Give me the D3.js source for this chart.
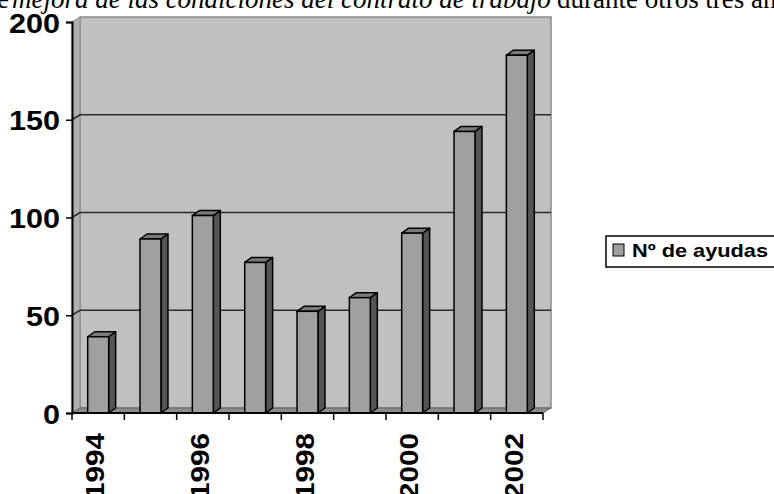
<!DOCTYPE html>
<html>
<head>
<meta charset="utf-8">
<script src="https://cdn.jsdelivr.net/npm/d3@7"></script>
<style>
  body { margin: 0; background: #fff; }
  svg { display: block; }
  .serif { font-family: 'Liberation Serif', 'Times New Roman', Times, serif; }
</style>
</head>
<body>
<div id="chart-container"></div>
<script>
  // chart data
  var years = ['1994', '1995', '1996', '1997', '1998', '1999', '2000', '2001', '2002'];
  var ayudas = [39, 89, 101, 77, 52, 59, 92, 144, 183];
  var yTicks = [0, 50, 100, 150, 200];
  var xLabels = ['1994', '1996', '1998', '2000', '2002'];
  var seriesName = 'Nº de ayudas';

  var width = 774;
  var height = 494;
  var depthX = 8, depthY = 5;   // wall depth
  var barDX = 7, barDY = 5;     // bar depth
  var sans = '"Liberation Sans", Arial, sans-serif';

  var svg = d3.select('#chart-container')
      .append('svg')
      .attr('width', width)
      .attr('height', height);

  // scales
  var xScale = d3.scaleBand()
      .domain(years)
      .range([72, 543])
      .paddingInner(0.6)
      .paddingOuter(0.3);

  var catScale = d3.scaleBand()
      .domain(years)
      .range([72, 543]);

  var yScale = d3.scaleLinear()
      .domain([0, 200])
      .range([413, 22]);

  var x0 = 72, x1 = 543, y0 = yScale(0), yTop = yScale(200);

  // clipped sentence of the page text above the chart
  var baseY = 8;
  var head = svg.append('g').attr('class', 'serif');
  head.append('text').attr('x', 9).attr('y', baseY).attr('text-anchor', 'end').text('de');
  var tIt = head.append('text').attr('x', 12).attr('y', baseY).style('font-style', 'italic')
      .text('mejora de las condiciones del contrato de trabajo');
  head.append('text').attr('x', 557).attr('y', baseY).text('durante otros tres años');
  head.selectAll('text').style('font-size', '24px');
  var k = 539 / tIt.node().getComputedTextLength();
  head.selectAll('text').style('font-size', (24 * k) + 'px');

  // back wall
  svg.append('rect')
      .attr('x', x0 + depthX)
      .attr('y', yTop - depthY)
      .attr('width', x1 - x0)
      .attr('height', y0 - yTop)
      .attr('fill', '#c0c0c0')
      .attr('stroke', '#8a8a8a')
      .attr('stroke-width', 1.5);

  // side wall
  svg.append('polygon')
      .attr('points', [[x0, yTop], [x0 + depthX, yTop - depthY], [x0 + depthX, y0 - depthY], [x0, y0]].join(' '))
      .attr('fill', '#b0b0b0')
      .attr('stroke', '#8a8a8a')
      .attr('stroke-width', 1);

  // gridlines
  svg.selectAll('polyline.grid')
      .data(yTicks.filter(function(d) { return d > 0 && d < 200; }))
      .enter()
      .append('polyline')
      .attr('class', 'grid')
      .attr('points', function(d) {
          var y = yScale(d);
          return [[x0, y], [x0 + depthX, y - depthY], [x1 + depthX, y - depthY]].join(' ');
      })
      .attr('fill', 'none')
      .attr('stroke', '#2a2a2a')
      .attr('stroke-width', 1.5);

  // floor
  svg.append('polygon')
      .attr('points', [[x0, y0], [x0 + depthX, y0 - depthY], [x1 + depthX, y0 - depthY], [x1, y0]].join(' '))
      .attr('fill', '#8c8c8c')
      .attr('stroke', '#555')
      .attr('stroke-width', 0.8);

  // 3d bars
  var bars = svg.selectAll('g.bar')
      .data(ayudas)
      .enter()
      .append('g')
      .attr('class', 'bar');

  bars.append('polygon')
      .attr('points', function(d, i) {
          var x = xScale(years[i]) + xScale.bandwidth(), y = yScale(d);
          return [[x, y], [x + barDX, y - barDY], [x + barDX, y0 - barDY], [x, y0]].join(' ');
      })
      .attr('fill', '#555')
      .attr('stroke', '#000')
      .attr('stroke-width', 1.5)
      .attr('stroke-linejoin', 'round');

  bars.append('polygon')
      .attr('points', function(d, i) {
          var x = xScale(years[i]), w = xScale.bandwidth(), y = yScale(d);
          return [[x, y], [x + barDX, y - barDY], [x + w + barDX, y - barDY], [x + w, y]].join(' ');
      })
      .attr('fill', '#7a7a7a')
      .attr('stroke', '#000')
      .attr('stroke-width', 1.5)
      .attr('stroke-linejoin', 'round');

  bars.append('rect')
      .attr('x', function(d, i) { return xScale(years[i]); })
      .attr('y', function(d) { return yScale(d); })
      .attr('width', xScale.bandwidth())
      .attr('height', function(d) { return y0 - yScale(d); })
      .attr('fill', '#a0a0a0')
      .attr('stroke', '#000')
      .attr('stroke-width', 1.5);

  // y axis
  var yAxis = svg.append('g')
      .attr('transform', 'translate(' + x0 + ',0)')
      .call(d3.axisLeft(yScale).tickValues(yTicks).tickSize(6).tickPadding(6));
  yAxis.select('.domain').attr('stroke', '#000').attr('stroke-width', 2);
  yAxis.selectAll('line').attr('stroke', '#000').attr('stroke-width', 1.5);
  yAxis.selectAll('text')
      .attr('font-family', sans)
      .attr('font-weight', 'bold')
      .attr('font-size', 28)
      .attr('fill', '#000')
      .attr('dy', '0.36em')
      .attr('lengthAdjust', 'spacingAndGlyphs')
      .attr('textLength', function(d) { return String(d).length * 17; });

  // x axis
  var boundaries = years.map(function(d) { return catScale(d); }).concat([x1]);
  svg.append('line')
      .attr('x1', x0).attr('x2', x1)
      .attr('y1', y0).attr('y2', y0)
      .attr('stroke', '#000')
      .attr('stroke-width', 2);
  svg.selectAll('line.xtick')
      .data(boundaries)
      .enter()
      .append('line')
      .attr('class', 'xtick')
      .attr('x1', function(d) { return d; })
      .attr('x2', function(d) { return d; })
      .attr('y1', y0)
      .attr('y2', y0 + 7)
      .attr('stroke', '#000')
      .attr('stroke-width', 1.5);

  svg.selectAll('text.xlabel')
      .data(xLabels)
      .enter()
      .append('text')
      .attr('class', 'xlabel')
      .attr('transform', function(d) {
          var cx = catScale(d) + catScale.bandwidth() / 2 - 3;
          return 'translate(' + cx + ',' + 433 + ') rotate(-90)';
      })
      .attr('text-anchor', 'end')
      .attr('dy', '0.36em')
      .attr('font-family', sans)
      .attr('font-weight', 'bold')
      .attr('font-size', 25)
      .attr('lengthAdjust', 'spacingAndGlyphs')
      .attr('textLength', 66)
      .text(function(d) { return d; });

  // legend
  var legend = svg.append('g');
  legend.append('rect')
      .attr('x', 606).attr('y', 236)
      .attr('width', 190).attr('height', 31)
      .attr('fill', '#fff')
      .attr('stroke', '#000')
      .attr('stroke-width', 1.5);
  legend.append('rect')
      .attr('x', 613).attr('y', 244)
      .attr('width', 11).attr('height', 12)
      .attr('fill', '#a0a0a0')
      .attr('stroke', '#000')
      .attr('stroke-width', 1);
  legend.append('text')
      .attr('x', 632).attr('y', 257)
      .attr('font-family', sans)
      .attr('font-weight', 'bold')
      .attr('font-size', 19)
      .attr('lengthAdjust', 'spacingAndGlyphs')
      .attr('textLength', 136)
      .text(seriesName);
</script>
</body>
</html>
